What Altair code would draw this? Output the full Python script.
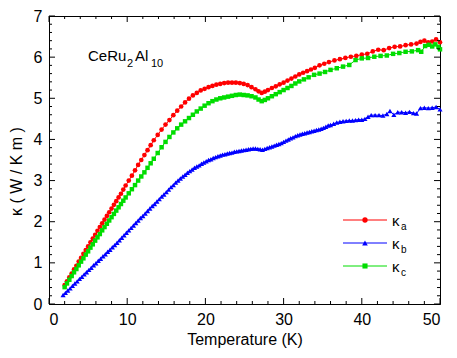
import altair as alt
import pandas as pd

# ---- data ----
T_a = [2.0, 2.3, 2.6, 2.9, 3.2, 3.5, 3.8, 4.1, 4.4, 4.7, 5.0, 5.3, 5.6, 5.9, 6.2, 6.5, 6.8, 7.1, 7.4, 7.7,
       8.0, 8.3, 8.6, 8.9, 9.2, 9.5, 9.8, 10.2, 10.6, 11.0, 11.4, 11.8, 12.2, 12.6, 13.0, 13.4, 13.9, 14.4,
       14.9, 15.4, 15.9, 16.4, 16.9, 17.4, 17.9, 18.4, 18.9, 19.4, 19.9, 20.4, 20.9, 21.4, 21.9, 22.4, 22.9,
       23.4, 23.9, 24.4, 24.9, 25.4, 25.9, 26.4, 26.8, 27.2, 27.6, 28.0, 28.5, 29.0, 29.5, 30.0, 30.5, 31.0,
       31.5, 32.0, 32.5, 33.0, 33.5, 34.0, 34.6, 35.2, 35.8, 36.5, 37.2, 37.9, 38.6, 39.3, 40.0, 40.7, 41.4,
       42.1, 42.8, 43.5, 44.2, 44.9, 45.6, 46.3, 47.0, 47.5, 48.0, 48.5, 49.0, 49.5, 50.0]
K_a = [0.46, 0.55, 0.65, 0.74, 0.84, 0.93, 1.03, 1.12, 1.22, 1.31, 1.40, 1.50, 1.59, 1.68, 1.78, 1.87, 1.96,
       2.05, 2.14, 2.23, 2.32, 2.41, 2.50, 2.59, 2.68, 2.78, 2.88, 3.00, 3.12, 3.25, 3.38, 3.50, 3.62, 3.74,
       3.86, 3.98, 4.11, 4.24, 4.36, 4.47, 4.59, 4.70, 4.80, 4.90, 4.99, 5.07, 5.13, 5.19, 5.23, 5.27, 5.30,
       5.33, 5.35, 5.37, 5.38, 5.38, 5.38, 5.37, 5.35, 5.32, 5.27, 5.22, 5.17, 5.13, 5.16, 5.20, 5.25, 5.29,
       5.34, 5.38, 5.43, 5.48, 5.53, 5.58, 5.62, 5.66, 5.70, 5.74, 5.80, 5.84, 5.88, 5.92, 5.95, 5.98, 6.01,
       6.03, 6.06, 6.08, 6.14, 6.18, 6.17, 6.22, 6.25, 6.26, 6.29, 6.31, 6.33, 6.37, 6.40, 6.36, 6.38, 6.43,
       6.36]

T_b = [1.8, 2.1, 2.4, 2.7, 3.0, 3.3, 3.6, 3.9, 4.2, 4.5, 4.8, 5.1, 5.4, 5.7, 6.0, 6.3, 6.6, 6.9, 7.2, 7.5,
       7.8, 8.1, 8.4, 8.7, 9.0, 9.3, 9.6, 9.9, 10.2, 10.5, 10.8, 11.1, 11.4, 11.7, 12.0, 12.3, 12.6, 12.9,
       13.2, 13.5, 13.8, 14.1, 14.4, 14.7, 15.0, 15.3, 15.6, 15.9, 16.2, 16.5, 16.8, 17.1, 17.4, 17.7, 18.0,
       18.3, 18.6, 18.9, 19.2, 19.5, 19.8, 20.1, 20.4, 20.7, 21.0, 21.3, 21.6, 21.9, 22.2, 22.5, 22.8, 23.1,
       23.4, 23.7, 24.0, 24.3, 24.6, 24.9, 25.2, 25.5, 25.8, 26.1, 26.4, 26.7, 27.0, 27.3, 27.6, 27.9, 28.2,
       28.5, 28.8, 29.1, 29.4, 29.7, 30.0, 30.3, 30.6, 30.9, 31.2, 31.5, 31.8, 32.1, 32.4, 32.7, 33.0, 33.3,
       33.6, 33.9, 34.2, 34.5, 34.8, 35.1, 35.4, 35.7, 36.0, 36.4, 36.8, 37.2, 37.6, 38.0, 38.4, 38.8, 39.2,
       39.6, 40.0, 40.4, 40.8, 41.2, 41.7, 42.2, 42.7, 43.2, 43.6, 44.1, 44.6, 45.1, 45.6, 46.1, 46.6, 47.0,
       47.5, 48.0, 48.5, 49.0, 49.5, 50.0]
K_b = [0.22, 0.27, 0.33, 0.38, 0.44, 0.50, 0.55, 0.61, 0.66, 0.72, 0.77, 0.83, 0.88, 0.94, 0.99, 1.05, 1.10,
       1.16, 1.21, 1.27, 1.32, 1.38, 1.43, 1.49, 1.55, 1.61, 1.67, 1.73, 1.79, 1.85, 1.91, 1.97, 2.03, 2.09,
       2.14, 2.20, 2.26, 2.32, 2.38, 2.43, 2.49, 2.55, 2.61, 2.66, 2.72, 2.78, 2.84, 2.89, 2.95, 3.00, 3.05,
       3.10, 3.14, 3.19, 3.23, 3.27, 3.31, 3.34, 3.37, 3.41, 3.44, 3.47, 3.50, 3.52, 3.55, 3.57, 3.59, 3.61,
       3.63, 3.64, 3.66, 3.67, 3.68, 3.70, 3.71, 3.72, 3.73, 3.74, 3.75, 3.76, 3.77, 3.78, 3.78, 3.77, 3.76,
       3.75, 3.77, 3.79, 3.81, 3.83, 3.85, 3.87, 3.89, 3.91, 3.94, 3.97, 4.00, 4.03, 4.05, 4.08, 4.10, 4.12,
       4.14, 4.15, 4.17, 4.18, 4.20, 4.21, 4.23, 4.24, 4.26, 4.28, 4.31, 4.34, 4.35, 4.38, 4.41, 4.43, 4.44,
       4.45, 4.46, 4.46, 4.47, 4.48, 4.48, 4.50, 4.55, 4.59, 4.59, 4.59, 4.58, 4.62, 4.69, 4.60, 4.66, 4.66,
       4.65, 4.67, 4.64, 4.63, 4.76, 4.77, 4.76, 4.77, 4.79, 4.73]

T_c = [2.0, 2.3, 2.6, 2.9, 3.2, 3.5, 3.8, 4.1, 4.4, 4.7, 5.0, 5.3, 5.6, 5.9, 6.2, 6.5, 6.8, 7.1, 7.4, 7.7,
       8.0, 8.3, 8.6, 8.9, 9.2, 9.5, 9.8, 10.2, 10.6, 11.0, 11.4, 11.8, 12.2, 12.6, 13.0, 13.4, 13.9, 14.4,
       14.9, 15.4, 15.9, 16.4, 16.9, 17.4, 17.9, 18.4, 18.9, 19.4, 19.9, 20.4, 20.9, 21.4, 21.9, 22.4, 22.9,
       23.4, 23.9, 24.4, 24.9, 25.4, 25.9, 26.4, 26.8, 27.2, 27.6, 28.0, 28.5, 29.0, 29.5, 30.0, 30.5, 31.0,
       31.5, 32.0, 32.6, 33.2, 33.9, 34.6, 35.3, 36.0, 36.8, 37.6, 38.4, 39.2, 40.0, 40.8, 41.6, 42.4, 43.2,
       44.0, 44.8, 45.6, 46.4, 47.2, 47.6, 48.1, 48.6, 49.0, 49.4, 49.8, 50.0]
K_c = [0.41, 0.50, 0.59, 0.68, 0.77, 0.85, 0.94, 1.03, 1.11, 1.20, 1.28, 1.37, 1.45, 1.54, 1.62, 1.70, 1.79,
       1.87, 1.95, 2.03, 2.11, 2.19, 2.27, 2.35, 2.43, 2.51, 2.59, 2.69, 2.79, 2.89, 3.00, 3.10, 3.20, 3.31,
       3.42, 3.53, 3.67, 3.81, 3.94, 4.06, 4.17, 4.27, 4.36, 4.44, 4.52, 4.60, 4.68, 4.75, 4.82, 4.88, 4.93,
       4.97, 5.00, 5.02, 5.04, 5.06, 5.08, 5.09, 5.08, 5.07, 5.05, 5.02, 4.97, 4.93, 4.96, 5.00, 5.05, 5.10,
       5.15, 5.20, 5.25, 5.30, 5.36, 5.41, 5.46, 5.51, 5.57, 5.60, 5.64, 5.69, 5.73, 5.77, 5.81, 5.93, 5.97,
       5.98, 6.01, 6.03, 6.04, 6.08, 6.10, 6.13, 6.14, 6.17, 6.13, 6.27, 6.30, 6.26, 6.31, 6.25, 6.19]

x_major = [0, 10, 20, 30, 40, 50]
x_minor = [2, 4, 6, 8, 12, 14, 16, 18, 22, 24, 26, 28, 32, 34, 36, 38, 42, 44, 46, 48]
y_major = [0, 1, 2, 3, 4, 5, 6, 7]
y_minor = [v / 5 for v in range(35) if v % 5 != 0]

colors = {"a": "#ff0000", "b": "#0000ff", "c": "#00dd00"}
shapes = {"a": "circle", "b": "triangle-up", "c": "square"}
sizes = {"a": 22, "b": 26, "c": 20}

W, H = 391, 288
FONT = "Liberation Sans"

xs = alt.Scale(domain=[0, 50], nice=False, zero=False)
ys = alt.Scale(domain=[0, 7], nice=False, zero=False)

X = alt.X("T:Q", scale=xs, axis=alt.Axis(values=x_major, title="Temperature (K)", format="d"))
Y = alt.Y("k:Q", scale=ys, axis=alt.Axis(values=y_major, title="κ ( W / K m )", format="d",
                                         titleY=155))

data = {
    "a": pd.DataFrame({"T": T_a, "k": K_a}),
    "b": pd.DataFrame({"T": T_b, "k": K_b}),
    "c": pd.DataFrame({"T": T_c, "k": K_c}),
}

layers = []
for s in ["a", "b", "c"]:
    d = data[s]
    layers.append(alt.Chart(d).mark_line(color=colors[s], strokeWidth=1).encode(x=X, y=Y))
    layers.append(alt.Chart(d).mark_point(shape=shapes[s], filled=True, opacity=1,
                                          size=sizes[s], color=colors[s]).encode(x=X, y=Y))

# inward ticks on all four sides
def xticks(vals, length):
    d = pd.DataFrame({"T": vals})
    bottom = alt.Chart(d).mark_rule(color="black", strokeWidth=1).encode(
        x=X, y=alt.value(H), y2=alt.value(H - length))
    top = alt.Chart(d).mark_rule(color="black", strokeWidth=1).encode(
        x=X, y=alt.value(0), y2=alt.value(length))
    return [bottom, top]

def yticks(vals, length):
    d = pd.DataFrame({"k": vals})
    left = alt.Chart(d).mark_rule(color="black", strokeWidth=1).encode(
        y=Y, x=alt.value(0), x2=alt.value(length))
    right = alt.Chart(d).mark_rule(color="black", strokeWidth=1).encode(
        y=Y, x=alt.value(W), x2=alt.value(W - length))
    return [left, right]

layers += xticks(x_major, 6) + xticks(x_minor, 3) + yticks(y_major, 6) + yticks(y_minor, 3)

one = alt.Data(values=[{}])

# compound label CeRu2Al10
formula = [("CeRu", 39, 45, 15), ("2", 78, 51, 11), ("Al", 86, 45, 15), ("10", 102, 51, 11)]
for txt, px, py, fs in formula:
    layers.append(alt.Chart(one).mark_text(text=txt, align="left", baseline="alphabetic",
                                           font=FONT, fontSize=fs, color="black").encode(
        x=alt.value(px), y=alt.value(py)))

# legend
leg_rows = {"a": 204, "b": 227, "c": 250}
for s in ["a", "b", "c"]:
    ry = leg_rows[s]
    layers.append(alt.Chart(one).mark_rule(color=colors[s], strokeWidth=1).encode(
        x=alt.value(W - 97), x2=alt.value(W - 53), y=alt.value(ry)))
    layers.append(alt.Chart(one).mark_point(shape=shapes[s], filled=True, opacity=1,
                                            size=sizes[s] + 6, color=colors[s]).encode(
        x=alt.value(W - 75), y=alt.value(ry)))
    layers.append(alt.Chart(one).mark_text(text="κ", align="left", baseline="alphabetic",
                                           font=FONT, fontSize=15, color="black").encode(
        x=alt.value(W - 48), y=alt.value(ry + 6)))
    layers.append(alt.Chart(one).mark_text(text=s, align="left", baseline="alphabetic",
                                           font=FONT, fontSize=10, color="black").encode(
        x=alt.value(W - 39), y=alt.value(ry + 10)))

chart = alt.layer(*layers).properties(
    width=W, height=H,
    autosize=alt.AutoSizeParams(type="none"),
    padding={"left": 41, "top": 8, "right": 9, "bottom": 44},
).configure_view(
    stroke="black", strokeWidth=1
).configure_axis(
    grid=False, ticks=False, tickSize=0, domainColor="black", domainWidth=1,
    labelFont=FONT, labelFontSize=16, labelColor="black", labelPadding=7,
    titleFont=FONT, titleFontSize=16, titleFontWeight="normal", titleColor="black",
).configure_axisX(
    titlePadding=4
).configure_axisY(
    titlePadding=9
)

chart.save("out.html", embed_options={"renderer": "svg", "actions": False})
